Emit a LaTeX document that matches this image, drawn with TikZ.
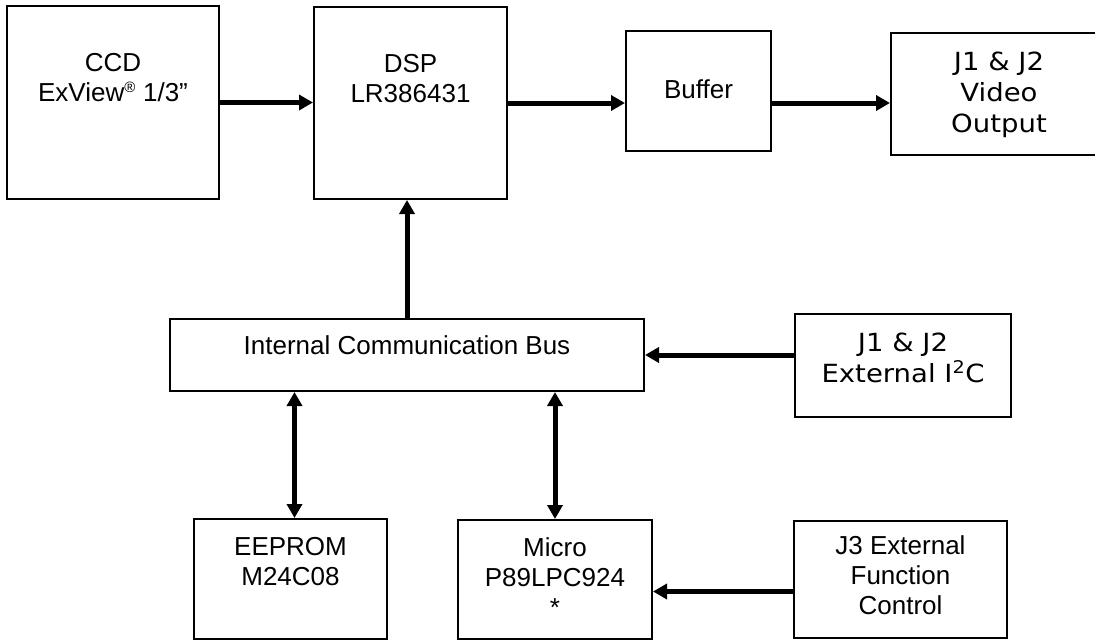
\documentclass[tikz,border=0pt]{standalone}
\usepackage{fontspec}
\setmainfont{Liberation Sans}
\newfontfamily\verdana[FakeStretch=1.1]{DejaVu Sans}
\usetikzlibrary{arrows.meta}
\usetikzlibrary{calc}

\tikzset{
    blk/.style={draw, line width=2pt, inner sep=0pt},
    txt/.style={align=center, inner sep=0pt, anchor=north, font=\fontsize{26}{30}\selectfont},
    vtxt/.style={align=center, inner sep=0pt, anchor=north, font=\verdana\fontsize{25}{31}\selectfont},
    link/.style={line width=5pt, -{Triangle[length=14pt,width=15pt]}},
    blink/.style={line width=5pt, {Triangle[length=14pt,width=15pt]}-{Triangle[length=14pt,width=15pt]}}
}

\begin{document}
\begin{tikzpicture}[x=1pt,y=-1pt]
        \useasboundingbox (0,0) rectangle (1095,640);
        \clip (0,0) rectangle (1095,640);

        \node[blk, minimum width=212pt, minimum height=193pt] (ccd) at (113,102.5) {}; %sensor
        \node[blk, minimum width=193pt, minimum height=192pt] (dsp) at (410.5,103) {}; %dsp
        \node[blk, minimum width=145pt, minimum height=120pt] (buf) at (698.5,91) {}; %buffer
        \node[blk, minimum width=216pt, minimum height=122pt] (vid) at (999,94) {}; %video out
        \node[blk, minimum width=474pt, minimum height=72pt] (bus) at (407,355) {}; %bus
        \node[blk, minimum width=216pt, minimum height=103pt] (i2c) at (903,365.5) {}; %i2c
        \node[blk, minimum width=193pt, minimum height=120pt] (ee) at (290.5,579) {}; %eeprom
        \node[blk, minimum width=194pt, minimum height=119pt] (mc) at (555,579.5) {}; %micro
        \node[blk, minimum width=213pt, minimum height=117pt] (j3) at (900.5,579.5) {}; %j3

        \node[txt] (ccdtxt) at ([yshift=-48.5pt]ccd.north) {CCD\\ExView\textsuperscript{\fontsize{15}{15}\selectfont ®} 1/3”};
        \node[txt] (dsptxt) at ([yshift=-48.5pt]dsp.north) {DSP\\LR386431};
        \node[txt] (buftxt) at ([yshift=-49pt]buf.north) {Buffer};
        \node[vtxt] (vidtxt) at ([yshift=-20pt]vid.north) {J1 \& J2\\Video\\Output};
        \node[txt] (bustxt) at ([yshift=-17pt]bus.north) {Internal Communication Bus};
        \node[vtxt] (i2ctxt) at ([yshift=-20pt]i2c.north) {J1 \& J2\\External I\textsuperscript{2}C};
        \node[txt] (eetxt) at ([yshift=-19.5pt]ee.north) {EEPROM\\M24C08};
        \node[txt] (mctxt) at ([yshift=-18.5pt]mc.north) {Micro\\P89LPC924\\*};
        \node[txt] (j3txt) at ([yshift=-15.5pt]j3.north) {J3 External\\Function\\Control};

        \draw[link] (ccd.east) -- (ccd.east -| dsp.west);
        \draw[link] (dsp.east) -- (dsp.east -| buf.west);
        \draw[link] (buf.east |- dsp.east) -- (vid.west |- dsp.east);
        \draw[link] (bus.north) -- (bus.north |- dsp.south);
        \draw[link] (i2c.west |- bus.east) -- (bus.east);
        \draw[blink] ([xshift=4pt]ee.north) -- ([xshift=4pt]ee.north |- bus.south);
        \draw[blink] (mc.north) -- (mc.north |- bus.south);
        \draw[link] ([yshift=-12pt]j3.west) -- ([yshift=-12pt]j3.west -| mc.east);
\end{tikzpicture}
\end{document}
